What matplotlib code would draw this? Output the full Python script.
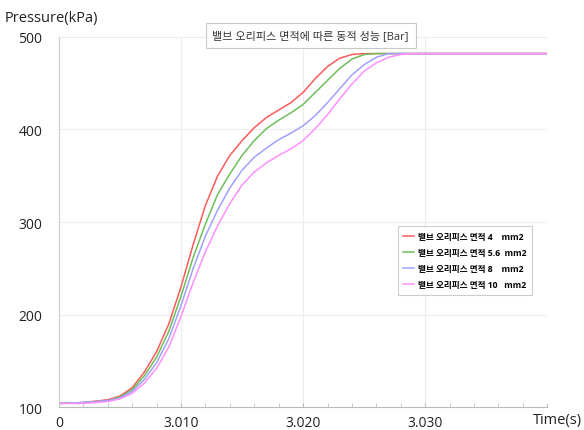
import matplotlib.pyplot as plt
import numpy as np

plt.rcParams['font.family'] = ['Open Sans', 'Noto Sans CJK KR', 'DejaVu Sans']

# 데이터
time = [3.000, 3.002, 3.004, 3.005, 3.006, 3.007, 3.008, 3.009, 3.010, 3.011,
        3.012, 3.013, 3.014, 3.015, 3.016, 3.017, 3.018, 3.019, 3.020, 3.021,
        3.022, 3.023, 3.024, 3.025, 3.026, 3.027, 3.028, 3.029, 3.030, 3.035, 3.040]

p_4 = [104, 105, 108, 112, 121, 138, 160, 190, 230, 276,
       318, 350, 372, 388, 402, 413, 421, 429, 440, 455,
       468, 477, 481, 482, 482, 482, 482, 482, 482, 482, 482]
p_56 = [104, 105, 107, 111, 119, 134, 154, 182, 220, 262,
        298, 330, 352, 372, 388, 401, 410, 418, 427, 440,
        453, 466, 476, 481, 482, 482, 482, 482, 482, 482, 482]
p_8 = [104, 105, 107, 110, 117, 130, 148, 174, 210, 250,
       285, 313, 337, 356, 370, 380, 389, 396, 404, 415,
       429, 444, 459, 470, 478, 482, 482, 482, 482, 482, 482]
p_10 = [104, 104, 106, 109, 115, 126, 142, 165, 198, 235,
        268, 296, 320, 340, 354, 364, 372, 379, 388, 401,
        416, 433, 449, 463, 472, 478, 481, 482, 482, 482, 482]

series = [
    ("밸브 오리피스 면적 4    mm2", p_4, "#ff5a5a"),
    ("밸브 오리피스 면적 5.6  mm2", p_56, "#6cbf5a"),
    ("밸브 오리피스 면적 8    mm2", p_8, "#a0a0ff"),
    ("밸브 오리피스 면적 10   mm2", p_10, "#ff90ff"),
]

fig = plt.figure(figsize=(5.84, 4.31), dpi=100)
ax = fig.add_axes([0.101, 0.053, 0.836, 0.859])

for label, vals, color in series:
    ax.plot(time, vals, color=color, lw=1.1, label=label)

ax.set_xlim(3.000, 3.040)
ax.set_ylim(100, 500)
ax.set_xticks([3.000, 3.010, 3.020, 3.030])
ax.set_xticklabels(["0", "3.010", "3.020", "3.030"])
ax.set_xticks(np.arange(3.000, 3.0401, 0.002), minor=True)
ax.set_yticks([100, 200, 300, 400, 500])
ax.tick_params(axis='both', labelsize=10, colors='#222222')
ax.tick_params(axis='x', which='both', direction='in', length=3, color='#bbbbbb', pad=6)
ax.tick_params(axis='y', length=0, pad=12)
ax.grid(True, which='major', color='#ececec', lw=0.8)

for s in ['top', 'right']:
    ax.spines[s].set_visible(False)
ax.spines['left'].set_color('#cccccc')
ax.spines['bottom'].set_color('#bbbbbb')

fig.text(0.008, 0.958, "Pressure(kPa)", fontsize=10.5, ha='left', va='center', color='#222222')
fig.text(0.997, 0.025, "Time(s)", fontsize=10.5, ha='right', va='center', color='#222222')

fig.text(0.532, 0.915, "밸브 오리피스 면적에 따른 동적 성능 [Bar]", fontsize=8,
         ha='center', va='center', color='#333333',
         bbox=dict(boxstyle='square,pad=0.6', fc='white', ec='#c8c8c8', lw=0.8))

leg = ax.legend(loc='upper left', bbox_to_anchor=(0.685, 0.50), fontsize=6.2,
                frameon=True, fancybox=False, edgecolor='#c0c0c0',
                handlelength=1.3, handletextpad=0.5, labelspacing=0.85,
                borderpad=0.6)
leg.get_frame().set_linewidth(0.8)
for t in leg.get_texts():
    t.set_fontweight('bold')

plt.savefig("out.png", dpi=100)
